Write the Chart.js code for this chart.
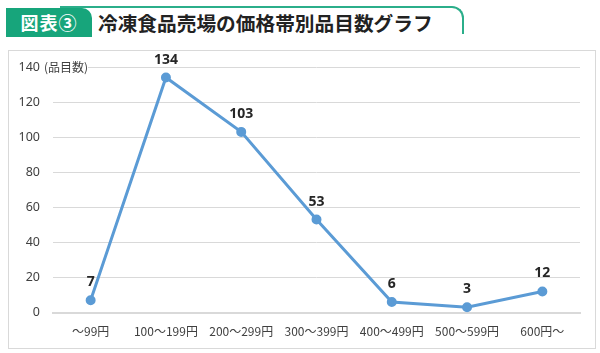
<!DOCTYPE html>
<html>
<head>
<meta charset="utf-8">
<script src="https://cdn.jsdelivr.net/npm/chart.js@4"></script>
<style>
  body { margin: 0; width: 600px; height: 353px; background: #fff; position: relative; overflow: hidden;
         font-family: "Noto Sans CJK JP", "Noto Sans", sans-serif; }
  #topline { position: absolute; left: 60px; top: 6px; width: 402px; height: 26px;
             border-top: 2px solid #2bae8a; border-right: 2px solid #2bae8a; border-top-right-radius: 12px; }
  #badge { position: absolute; left: 6px; top: 8px; width: 86px; height: 29px; background: #17a57b;
           border-top-right-radius: 10px; color: #fff; font-weight: bold; font-size: 18px;
           line-height: 29px; text-align: center; letter-spacing: 1px; }
  #title { position: absolute; left: 98px; top: 8px; line-height: 29px; font-size: 19.7px; font-weight: bold; color: #222; }
  #frame { position: absolute; left: 8px; top: 50px; width: 586px; height: 297px; border: 1px solid #d9d9d9; }
  #wrap { position: absolute; left: 0; top: 0; width: 600px; height: 353px; }
  canvas { display: block; }
</style>
</head>
<body>
<div id="topline"></div>
<div id="badge">図表③</div>
<div id="title">冷凍食品売場の価格帯別品目数グラフ</div>
<div id="frame"></div>
<div id="wrap"><canvas id="priceChart" width="600" height="353"></canvas></div>
<script>
const categories = ["～99円", "100～199円", "200～299円", "300～399円", "400～499円", "500～599円", "600円～"];
const itemCounts = [7, 134, 103, 53, 6, 3, 12];
const yTicks = [0, 20, 40, 60, 80, 100, 120, 140];

// 点の上に数値を表示、140の横に単位
const labelPlugin = {
  id: "labels",
  afterDatasetsDraw(chart) {
    const ctx = chart.ctx;
    const meta = chart.getDatasetMeta(0);
    ctx.save();
    ctx.fillStyle = "#262626";
    ctx.font = "bold 14px 'Noto Sans', sans-serif";
    ctx.textAlign = "center";
    ctx.textBaseline = "middle";
    meta.data.forEach((pt, i) => {
      ctx.fillText(itemCounts[i], pt.x, pt.y - 18);
    });
    const y = chart.scales.y.getPixelForValue(140);
    ctx.fillStyle = "#fff";
    ctx.fillRect(43, y - 8, 45, 16);
    ctx.fillStyle = "#404040";
    ctx.font = "12px 'Noto Sans CJK JP', sans-serif";
    ctx.textAlign = "left";
    ctx.fillText("(品目数)", 44, y);
    ctx.restore();
  }
};

const ctx = document.getElementById("priceChart").getContext("2d");
new Chart(ctx, {
  type: "line",
  data: {
    labels: categories,
    datasets: [{
      data: itemCounts,
      borderColor: "#5b9bd5",
      backgroundColor: "#5b9bd5",
      borderWidth: 3,
      pointRadius: 3.5,
      pointHoverRadius: 3.5,
      tension: 0
    }]
  },
  options: {
    responsive: false,
    animation: false,
    layout: { padding: { top: 67, right: 20, left: 0, bottom: 0 } },
    plugins: { legend: { display: false }, tooltip: { enabled: false } },
    scales: {
      x: {
        offset: true,
        grid: { display: false, drawTicks: false },
        border: { color: "#d9d9d9", width: 2 },
        ticks: { color: "#404040", padding: 12, maxRotation: 0, autoSkip: false,
                 font: { size: 12, family: "'Noto Sans CJK JP', sans-serif" } },
        afterFit(s) { s.height = 40.5; }
      },
      y: {
        min: 0, max: 140,
        afterBuildTicks(s) { s.ticks = yTicks.map(v => ({ value: v })); },
        grid: { color: "#d9d9d9", drawTicks: false },
        border: { display: false },
        ticks: { color: "#404040", padding: 13, font: { size: 12.5, family: "'Noto Sans', sans-serif" } },
        afterFit(s) { s.width = 53; }
      }
    }
  },
  plugins: [labelPlugin]
});
</script>
</body>
</html>
